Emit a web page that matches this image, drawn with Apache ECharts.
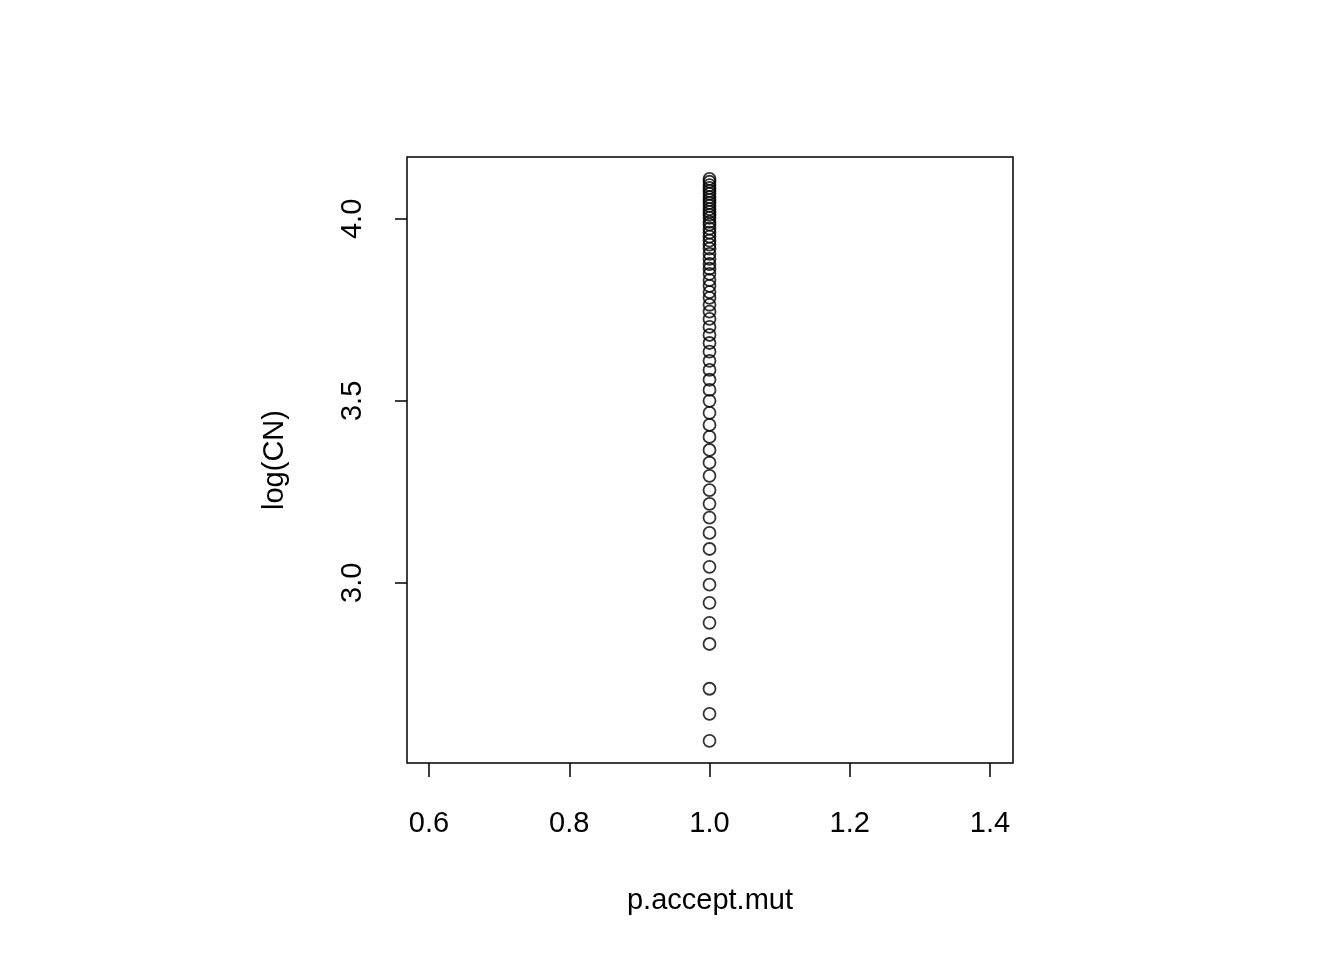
<!DOCTYPE html>
<html><head><meta charset="utf-8">
<script src="https://cdn.jsdelivr.net/npm/echarts@6/dist/echarts.min.js"></script>
<style>html,body{margin:0;background:#fff}#c{width:1344px;height:960px}</style>
</head><body><div id="c"></div>
<script>
const xValues = [1.0];
const logCN = [2.566,2.640,2.709,2.832,2.890,2.945,2.995,3.044,3.093,3.137,3.179,3.217,3.255,3.294,3.330,3.365,3.401,3.434,3.467,
3.500,3.530,3.558,3.585,3.610,3.635,3.659,3.681,3.703,3.725,3.745,3.764,3.783,3.799,3.816,3.832,3.849,3.863,3.876,3.890,3.904,
3.918,3.929,3.940,3.951,3.962,3.973,3.984,3.992,4.003,4.011,4.019,4.027,4.036,4.044,4.052,4.060,4.069,4.077,4.085,4.093,4.102,4.110];
const xTicks = [0.6,0.8,1.0,1.2,1.4];
const yTicks = [3.0,3.5,4.0];
const font = 'Liberation Sans, Arial, sans-serif';
const chart = echarts.init(document.getElementById('c'));
chart.setOption({
  animation:false,
  grid:{left:407,right:331,top:157,bottom:197,show:true,borderColor:'#000',borderWidth:1.5,backgroundColor:'transparent'},
  xAxis:{type:'value',min:0.5686,max:1.4328,splitLine:{show:false},axisLine:{show:false},
    axisTick:{show:true,length:14,lineStyle:{color:'#000',width:1.5},customValues:xTicks},
    axisLabel:{customValues:xTicks,margin:46,fontSize:29,color:'#000',fontFamily:font,formatter:v=>v.toFixed(1)}},
  yAxis:{type:'value',min:2.505,max:4.170,splitLine:{show:false},axisLine:{show:false},
    axisTick:{show:true,length:12,lineStyle:{color:'#000',width:1.5},customValues:yTicks},
    axisLabel:{customValues:yTicks,margin:40,rotate:90,fontSize:29,color:'#000',fontFamily:font,formatter:v=>v.toFixed(1)}},
  graphic:[
    {type:'text',x:710,y:901,style:{text:'p.accept.mut',fontSize:29,fontFamily:font,fill:'#000',align:'center',verticalAlign:'middle'}},
    {type:'text',x:275,y:460,rotation:Math.PI/2,style:{text:'log(CN)',fontSize:29,fontFamily:font,fill:'#000',align:'center',verticalAlign:'middle'}}
  ],
  series:[{type:'scatter',symbol:'circle',symbolSize:12,
    itemStyle:{color:'transparent',borderColor:'#000',borderWidth:1.8},
    data:logCN.map(v=>[xValues[0],v])}]
});
</script></body></html>
